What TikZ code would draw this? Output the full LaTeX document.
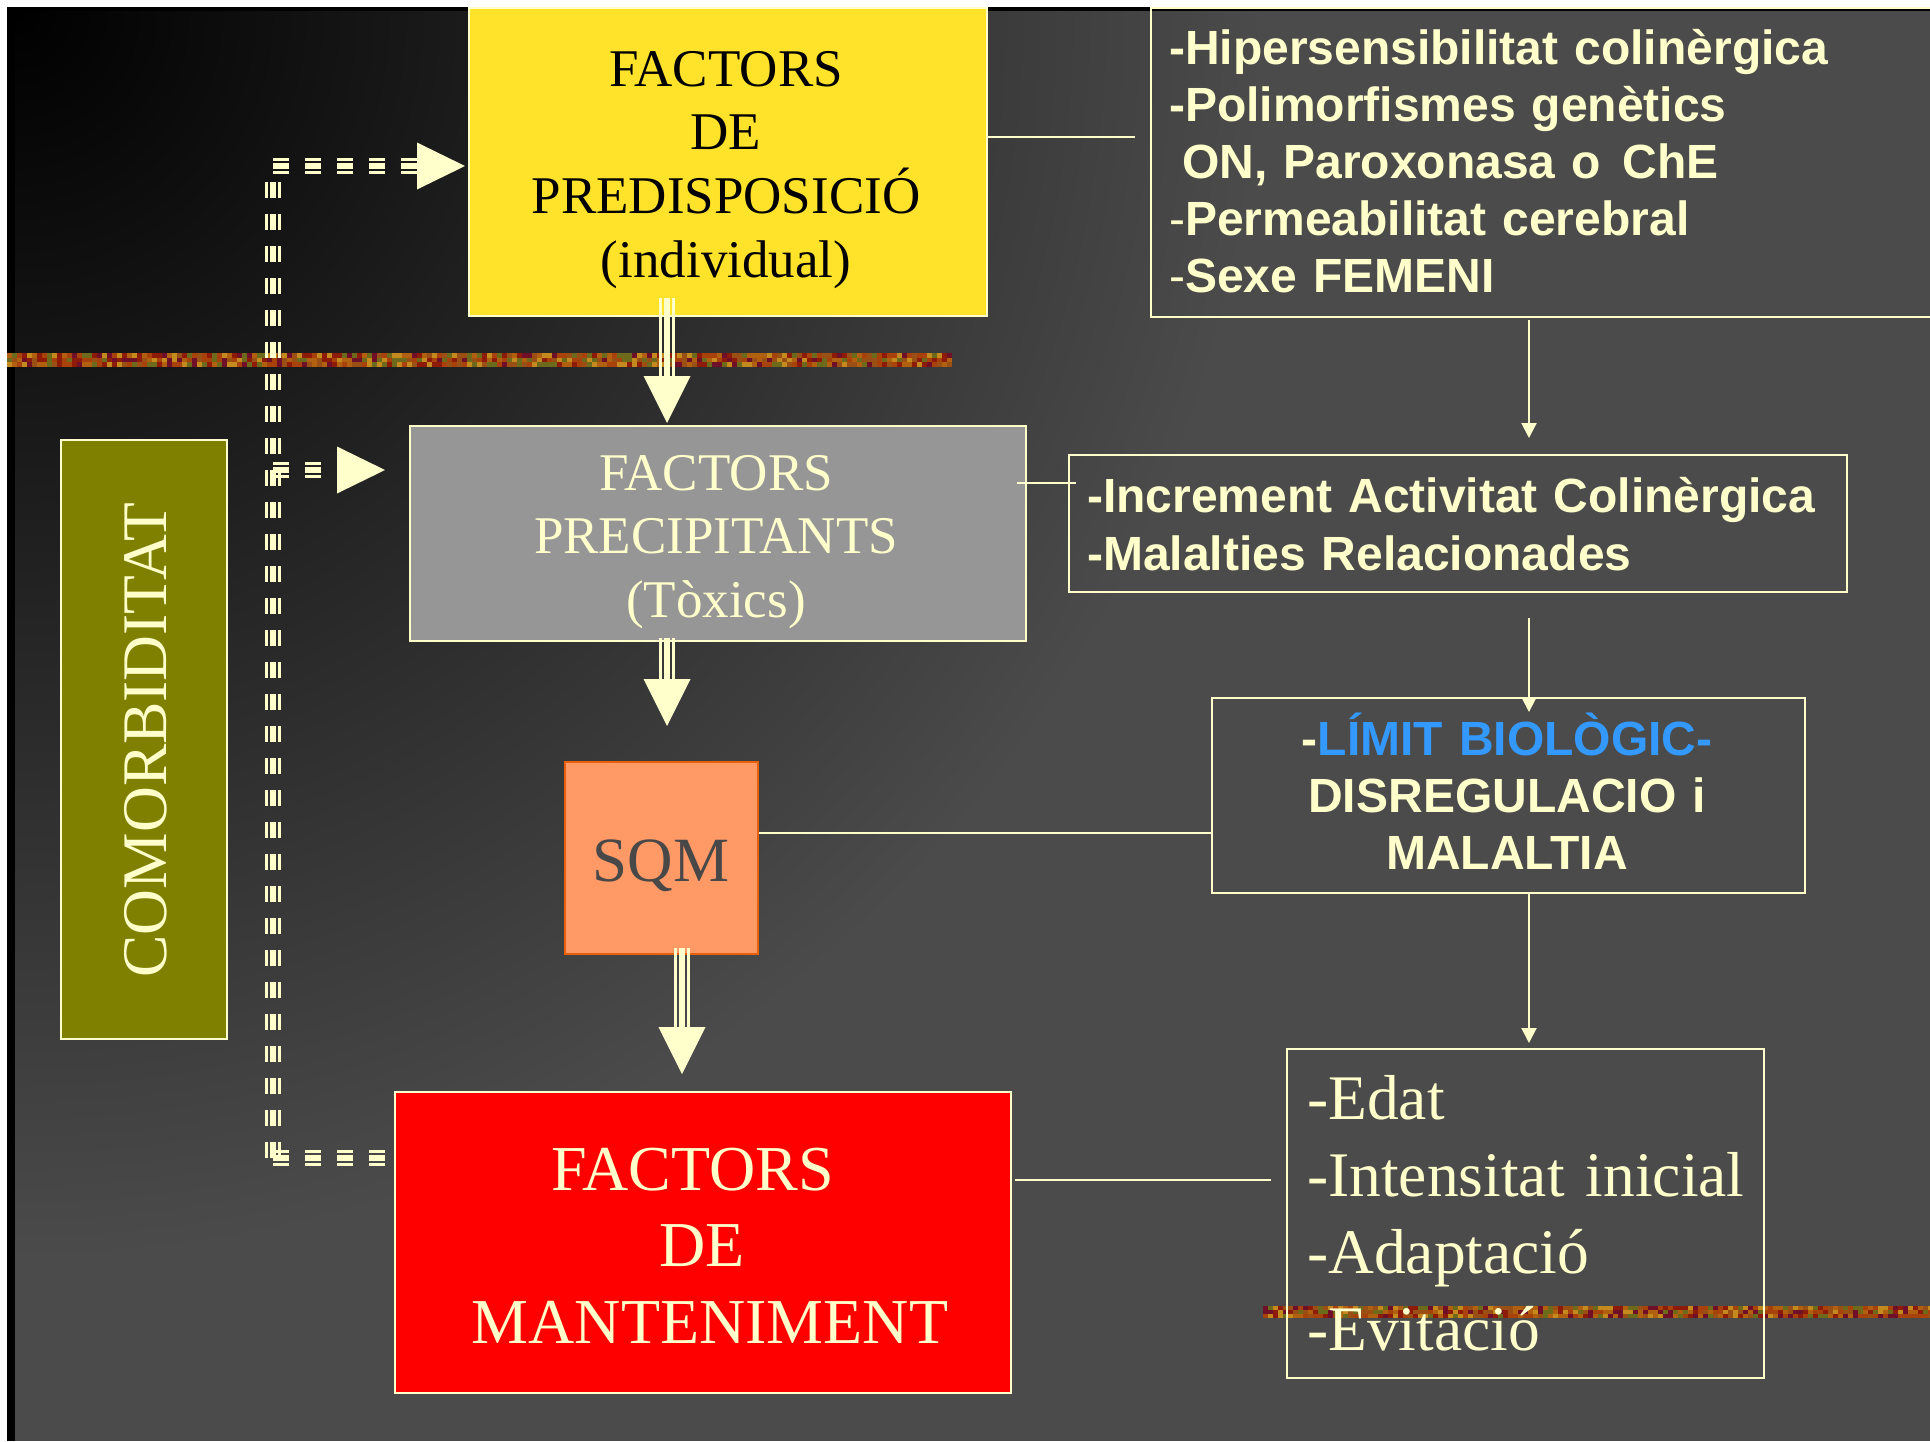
\documentclass[tikz,border=0pt]{standalone}
\usepackage{fontspec}
\setmainfont{Liberation Serif}
\setsansfont{Liberation Sans}
\usetikzlibrary{arrows.meta,calc}
\definecolor{pale}{HTML}{FFFFCC}
\definecolor{yboxc}{HTML}{FFE32B}
\definecolor{grayc}{HTML}{969696}
\definecolor{sqfill}{HTML}{FF9966}
\definecolor{sqborder}{HTML}{E8600C}
\definecolor{redc}{HTML}{FF0000}
\definecolor{olivec}{HTML}{808000}
\definecolor{limblue}{HTML}{3399FF}
\definecolor{sqtext}{HTML}{484848}
\definecolor{bgout}{HTML}{4B4B4B}
\definecolor{tex1}{HTML}{B0600E}
\definecolor{tex2}{HTML}{8E1A08}
\definecolor{tex3}{HTML}{6E6A1C}
\definecolor{tex4}{HTML}{A8420A}
\definecolor{tex5}{HTML}{C58A1E}
\definecolor{tex6}{HTML}{701028}
\definecolor{tex7}{HTML}{9A5014}
\newcommand\myfA{\fontsize{53}{63.7}\selectfont}
\newcommand\myfB{\fontsize{63}{76.5}\selectfont}
\newcommand\myfR{\fontsize{64}{76.5}\selectfont}
\newcommand\myfC{\fontsize{63.5}{73}\selectfont}
\newcommand\myfD{\fontsize{63.5}{77}\selectfont}
\newcommand\mysA{\sffamily\bfseries\fontsize{48}{57}\selectfont}
\newcommand\mysB{\sffamily\bfseries\fontsize{48}{58}\selectfont}
\newcommand\tarrowv[2]{%
  \path (#2) ++(0,-46) coordinate (tmpb);
  \draw[tl] ($(#1)+(-6.5,0)$) -- ($(tmpb)+(-6.5,0)$);
  \draw[tc] (#1) -- (tmpb);
  \draw[tl] ($(#1)+(6.5,0)$) -- ($(tmpb)+(6.5,0)$);
  \fill[pale] (#2) -- ++(-23.5,-47) -- ++(47,0) -- cycle;}
\newcommand\dvline[2]{%
  \draw[tl,dsh] ($(#1)+(-6.5,0)$) -- ($(#2)+(-6.5,0)$);
  \draw[tc,dsh] (#1) -- (#2);
  \draw[tl,dsh] ($(#1)+(6.5,0)$) -- ($(#2)+(6.5,0)$);}
\newcommand\dhline[2]{%
  \draw[tl,dsh] ($(#1)+(0,-6.5)$) -- ($(#2)+(0,-6.5)$);
  \draw[tc,dsh] (#1) -- (#2);
  \draw[tl,dsh] ($(#1)+(0,6.5)$) -- ($(#2)+(0,6.5)$);}
\newcommand\hhead[1]{\fill[pale] (#1) -- ++(-48,-23.5) -- ++(0,47) -- cycle;}
\begin{document}
\begin{tikzpicture}[x=1pt,y=-1pt,
  box/.style={draw=pale, line width=2pt, inner sep=0pt, anchor=north west},
  txt/.style={inner sep=0pt, anchor=base},
  conn/.style={draw=pale, line width=2pt},
  tarr/.style={draw=pale, line width=2pt, -{Triangle[width=15pt,length=15pt]}},
  tl/.style={draw=pale, line width=3pt},
  tc/.style={draw=pale, line width=6.5pt},
  dsh/.style={dash pattern=on 16pt off 16pt}]
\useasboundingbox (0,0) rectangle (1930,1441);
\clip (0,0) rectangle (1930,1441);
% background
\fill[white] (0,0) rectangle (1930,1441);
\fill[black] (7,7) rectangle (1930,1441);
\fill[bgout] (15,11) rectangle (1930,1441);
\begin{scope}
  \clip (15,11) rectangle (1930,1441);
  \shade[inner color=black, outer color=bgout] (15,11) circle (1250);
\end{scope}
% textured stripes
\pgfmathsetseed{4242}
\foreach \x in {7,12,...,947} {
  \foreach \r in {0,1,2} {
    \pgfmathrandominteger{\k}{1}{7}
    \fill[tex\k] (\x,{353+\r*4.67}) rectangle ++(5.3,4.8);
  }
}
\foreach \x in {1263,1268,...,1928} {
  \foreach \r in {0,1,2} {
    \pgfmathrandominteger{\k}{1}{7}
    \fill[tex\k] (\x,{1306+\r*4}) rectangle ++(5.3,4.1);
  }
}
% boxes
\node[box, fill=yboxc, minimum width=518pt, minimum height=308pt] (yb) at (468,7) {};
\node[box, minimum width=790pt, minimum height=309pt] (b1) at (1150,7) {};
\node[box, fill=grayc, minimum width=616pt, minimum height=215pt] (gb) at (409,425) {};
\node[box, minimum width=778pt, minimum height=137pt] (b2) at (1068,454) {};
\node[box, fill=sqfill, draw=sqborder, minimum width=193pt, minimum height=192pt] (sq) at (564,761) {};
\node[box, minimum width=593pt, minimum height=195pt] (b3) at (1211,697) {};
\node[box, fill=redc, minimum width=616pt, minimum height=301pt] (rb) at (394,1091) {};
\node[box, minimum width=477pt, minimum height=329pt] (b4) at (1286,1048) {};
\node[box, fill=olivec, minimum width=166pt, minimum height=599pt] (cb) at (60,439) {};
% texts
\node[txt, text width=518pt, align=center, font=\myfA, text=black] (ytx) at (726,86) {FACTORS\\DE\\PREDISPOSICIÓ\\(individual)};
\node[txt, text width=616pt, align=center, font=\myfA, text=pale] (gtx) at (716,490) {FACTORS\\PRECIPITANTS\\(Tòxics)};
\node[txt, font=\myfB, text=sqtext] (stx) at (661,881) {SQM};
\node[txt, text width=616pt, align=center, font=\myfR, text=pale] (rtx) at (702,1190) {FACTORS\kern18pt\\DE\\\hspace*{16pt}MANTENIMENT};
\node[txt, rotate=90, font=\myfC, text=pale] (ctx) at (166,740) {COMORBIDITAT};
\node[txt, anchor=base west, text width=760pt, align=left, font=\mysA, text=pale] (t1) at (1169,64)
  {-Hipersensibilitat colinèrgica\\-Polimorfismes genètics\\\hspace*{13pt}ON, Paroxonasa o\hspace{22pt}ChE\\{\mdseries -}Permeabilitat cerebral\\{\mdseries -}Sexe FEMENI};
\node[txt, anchor=base west, text width=740pt, align=left, font=\mysB, text=pale] (t2) at (1087,512)
  {-Increment Activitat Colinèrgica\\-Malalties Relacionades};
\node[txt, text width=593pt, align=center, font=\mysA, text=pale] (t3) at (1507,755)
  {-\textcolor{limblue}{LÍMIT BIOLÒGIC-}\\DISREGULACIO i\\MALALTIA};
\node[txt, anchor=base west, text width=470pt, align=left, font=\myfD, text=pale] (t4) at (1307,1119)
  {-Edat\\-Intensitat inicial\\-Adaptació\\-Evitació};
% plain connectors
\coordinate (L1) at (0,137);
\coordinate (L2) at (0,483);
\coordinate (L3) at (0,833);
\coordinate (L4) at (0,1180);
\draw[conn] (yb.east |- L1) -- ($(b1.west |- L1)+(-15,0)$);
\draw[conn] ($(gb.east |- L2)+(-10,0)$) -- ($(b2.west |- L2)+(8,0)$);
\draw[conn, line width=2.5pt] (sq.east |- L3) -- (b3.west |- L3);
\draw[conn] ($(rb.east |- L4)+(3,0)$) -- ($(b4.west |- L4)+(-15,0)$);
% thin arrows on the right
\coordinate (AX) at (1529,0);
\draw[tarr] ($(b1.south -| AX)+(0,2)$) -- ($(b2.north -| AX)+(0,-16)$);
\draw[tarr] ($(b2.south -| AX)+(0,25)$) -- ($(b3.north -| AX)+(0,15)$);
\draw[tarr] (b3.south -| AX) -- ($(b4.north -| AX)+(0,-5)$);
% triple main arrows
\path (yb.south) ++(-61,-19) coordinate (A1s);
\path (gb.north) ++(-51,-2) coordinate (A1t);
\path (gb.south) ++(-51,-4) coordinate (A2s);
\path (sq.north) ++(5.5,-35) coordinate (A2t);
\path (sq.south) ++(20.5,-7) coordinate (A3s);
\path (rb.north) ++(-21,-17) coordinate (A3t);
\tarrowv{A1s}{A1t}
\tarrowv{A2s}{A2t}
\tarrowv{A3s}{A3t}
% dashed comorbidity bracket
\coordinate (D0) at (273,182);
\coordinate (D1) at (273,1158);
\coordinate (H1s) at (273,166);
\path ($(yb.west |- H1s)+(-3,0)$) coordinate (H1t);
\path ($(H1t)+(-48,0)$) coordinate (H1b);
\coordinate (H2s) at (273,470);
\path ($(gb.west |- H2s)+(-24,0)$) coordinate (H2t);
\path ($(H2t)+(-48,0)$) coordinate (H2b);
\coordinate (H3s) at (273,1158);
\path ($(rb.west |- H3s)+(-9,0)$) coordinate (H3t);
\dvline{D0}{D1}
\dhline{H1s}{H1b}
\hhead{H1t}
\dhline{H2s}{H2b}
\hhead{H2t}
\dhline{H3s}{H3t}
\end{tikzpicture}
\end{document}
